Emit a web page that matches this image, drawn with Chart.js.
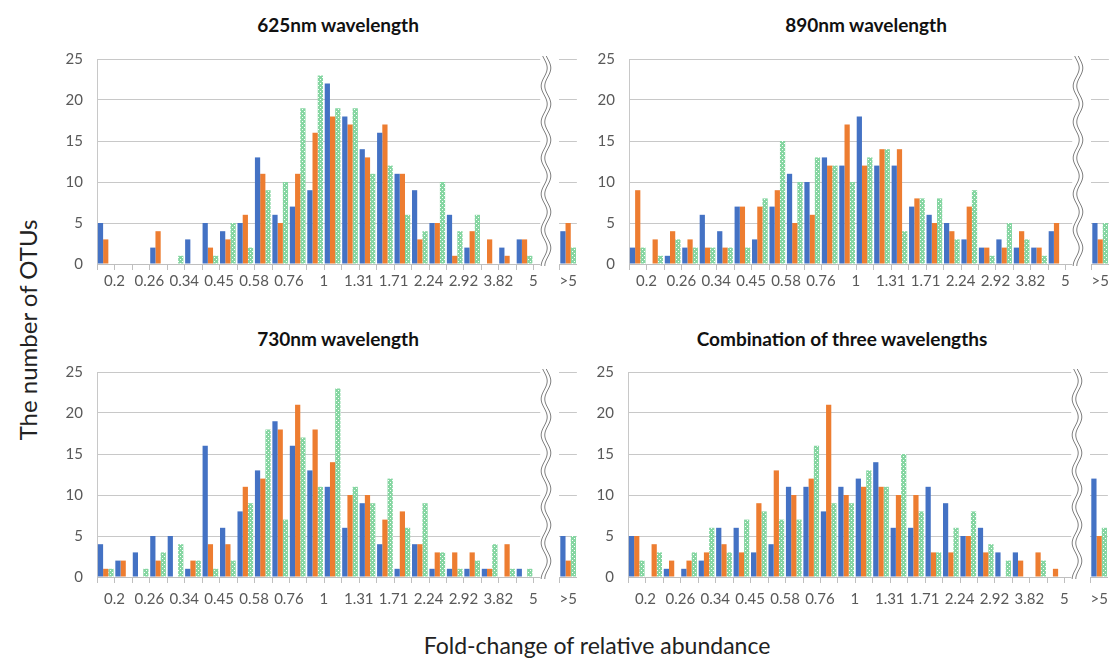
<!DOCTYPE html>
<html>
<head>
<meta charset="utf-8">
<script src="https://cdn.jsdelivr.net/npm/chart.js@4/dist/chart.umd.min.js"></script>
<style>
  html, body { margin: 0; padding: 0; background: #fff; overflow: hidden; }
  body { width: 1112px; height: 659px; position: relative; font-family: Lato, sans-serif; }
  canvas { position: absolute; }
  .ttl { position: absolute; font-weight: bold; font-size: 19px; color: #111; white-space: nowrap;
         transform: translate(-50%, -50%); }
  .ytitle { position: absolute; left: 27px; top: 330px; font-size: 24px; color: #222; white-space: nowrap;
            transform: translate(-50%, -50%) rotate(-90deg); }
  .xtitle { position: absolute; left: 597px; top: 645px; font-size: 23px; color: #222; white-space: nowrap;
            transform: translate(-50%, -50%); }
</style>
</head>
<body>
<div class="ytitle">The number of OTUs</div>
<div class="xtitle">Fold-change of relative abundance</div>

<script>
// ── Data ──────────────────────────────────────────────────────────────────
// 25 bins between the labelled edges, last value of each array is the ">5" bin

const edgeLabels = ['0.2', '0.26', '0.34', '0.45', '0.58', '0.76', '1', '1.31', '1.71', '2.24', '2.92', '3.82', '5'];
const overLabel  = '>5';

const blue625   = [5, 0, 0, 2, 0, 3, 5, 4, 5, 13, 6, 7, 9, 22, 18, 14, 16, 11, 9, 5, 6, 2, 0, 2, 3, 4];
const orange625 = [3, 0, 0, 4, 0, 0, 2, 3, 6, 11, 5, 11, 16, 18, 17, 13, 17, 11, 3, 5, 1, 4, 3, 1, 3, 5];
const green625  = [0, 0, 0, 0, 1, 0, 1, 5, 2, 9, 10, 19, 23, 19, 19, 11, 12, 6, 4, 10, 4, 6, 0, 0, 1, 2];

const blue890   = [2, 0, 1, 2, 6, 4, 7, 3, 7, 11, 10, 13, 12, 18, 12, 12, 7, 6, 5, 3, 2, 3, 2, 2, 4, 5];
const orange890 = [9, 3, 4, 3, 2, 2, 7, 7, 9, 5, 6, 12, 17, 12, 14, 14, 8, 5, 4, 7, 2, 2, 4, 2, 5, 3];
const green890  = [2, 1, 3, 2, 2, 2, 2, 8, 15, 10, 13, 12, 10, 13, 14, 4, 8, 8, 3, 9, 1, 5, 3, 1, 0, 5];

const blue730   = [4, 2, 3, 5, 5, 1, 16, 6, 8, 13, 19, 16, 13, 11, 6, 9, 4, 1, 4, 1, 1, 1, 1, 0, 1, 5];
const orange730 = [1, 2, 0, 2, 0, 2, 4, 4, 11, 12, 18, 21, 18, 14, 10, 10, 7, 8, 4, 3, 3, 3, 1, 4, 0, 2];
const green730  = [1, 0, 1, 3, 4, 2, 1, 2, 9, 18, 7, 17, 11, 23, 11, 9, 12, 6, 9, 3, 1, 2, 4, 1, 1, 5];

const blueAll   = [5, 0, 1, 1, 2, 6, 6, 3, 4, 11, 11, 8, 11, 12, 14, 6, 6, 11, 9, 5, 6, 3, 3, 0, 0, 12];
const orangeAll = [5, 4, 2, 2, 3, 4, 3, 9, 13, 10, 12, 21, 10, 11, 11, 10, 10, 3, 3, 5, 3, 0, 2, 3, 1, 5];
const greenAll  = [2, 3, 0, 3, 6, 3, 7, 8, 7, 7, 16, 9, 9, 13, 11, 15, 8, 3, 6, 8, 4, 2, 0, 2, 0, 6];

// ── Layout ────────────────────────────────────────────────────────────────

const NBINS   = 25;
const GAP     = 1.5;            // width of the axis break, in bins
const X_MAX   = NBINS + GAP + 0.5;
const UNIT    = 17.45;          // px per bin
const Y_W     = 47;
const X_H     = 40;
const PAD_TOP = 10;
const CANVAS_W = 530;

const panels = [
  { title: '625nm wavelength', cx: 338, ty: 24,  left: 97,    top: 59,    h: 204.5, pad: 8,  series: [blue625, orange625, green625] },
  { title: '890nm wavelength', cx: 866, ty: 24,  left: 629.3, top: 59,    h: 204.5, pad: 8,  series: [blue890, orange890, green890] },
  { title: '730nm wavelength', cx: 338, ty: 338, left: 97,    top: 372.3, h: 205,   pad: 13, series: [blue730, orange730, green730] },
  { title: 'Combination of three wavelengths', cx: 842, ty: 338, left: 628.3, top: 372.3, h: 205, pad: 13, series: [blueAll, orangeAll, greenAll] },
];

const binX = i => (i < NBINS ? i : NBINS + GAP);
const tickPos  = edgeLabels.map((_, i) => 2 * i + 0.5).concat([NBINS + GAP]);
const tickText = edgeLabels.concat([overLabel]);
const edgeMarks = Array.from({ length: NBINS + 1 }, (_, i) => i - 0.5).concat([NBINS + GAP - 0.5]);

// dotted light-green fill
function dotPattern() {
  const c = document.createElement('canvas');
  c.width = 4; c.height = 4;
  const g = c.getContext('2d');
  g.fillStyle = '#86d6a2';
  g.fillRect(0, 0, 4, 4);
  g.fillStyle = '#ffffff';
  g.fillRect(0, 0, 1, 1);
  g.fillRect(2, 2, 1, 1);
  return g.createPattern(c, 'repeat');
}
const colors = ['#4472C4', '#ED7D31', dotPattern()];

// tick marks under the axis + the wavy axis break
const axisExtras = {
  id: 'axisExtras',
  afterDraw(chart) {
    const { ctx, chartArea: a, scales: { x } } = chart;
    ctx.save();
    ctx.strokeStyle = '#bfbfbf';
    ctx.lineWidth = 1;
    ctx.beginPath();
    for (const v of edgeMarks) {
      const px = Math.round(x.getPixelForValue(v)) + 0.5;
      ctx.moveTo(px, a.bottom);
      ctx.lineTo(px, a.bottom + 6);
    }
    ctx.stroke();

    // blank out the grid inside the break
    const x0 = x.getPixelForValue(NBINS - 0.1);
    const x1 = Math.round(x.getPixelForValue(NBINS + GAP - 0.5));
    ctx.fillStyle = '#fff';
    ctx.fillRect(x0, a.top - 4, x1 - x0, a.bottom - a.top + 12);

    const cx = x.getPixelForValue(NBINS + 0.23);
    ctx.strokeStyle = '#808080';
    for (const off of [-1.8, 1.8]) {
      ctx.beginPath();
      for (let yy = a.top - 3; yy <= a.bottom + 2; yy++) {
        const xx = cx + off + 3 * Math.sin((yy - a.top) / 36 * 2 * Math.PI);
        if (yy === a.top - 3) ctx.moveTo(xx, yy); else ctx.lineTo(xx, yy);
      }
      ctx.stroke();
    }
    ctx.restore();
  }
};

// ── Charts ────────────────────────────────────────────────────────────────

const font = { family: 'Lato', size: 15 };

for (const p of panels) {
  const t = document.createElement('div');
  t.className = 'ttl';
  t.style.left = p.cx + 'px';
  t.style.top = p.ty + 'px';
  t.textContent = p.title;
  document.body.appendChild(t);

  const cv = document.createElement('canvas');
  cv.width = CANVAS_W;
  cv.height = Math.round(PAD_TOP + p.h + X_H);
  cv.style.left = (p.left - Y_W) + 'px';
  cv.style.top = (p.top - PAD_TOP) + 'px';
  document.body.appendChild(cv);

  new Chart(cv.getContext('2d'), {
    type: 'bar',
    data: {
      datasets: p.series.map((vals, k) => ({
        data: vals.map((v, i) => ({ x: binX(i), y: v })),
        backgroundColor: colors[k],
        borderWidth: 0,
        categoryPercentage: 0.9,
        barPercentage: 1.0,
      })),
    },
    options: {
      responsive: false,
      animation: false,
      layout: { padding: { top: PAD_TOP, right: CANVAS_W - Y_W - (X_MAX + 0.5) * UNIT, left: 0, bottom: 0 } },
      plugins: { legend: { display: false }, tooltip: { enabled: false } },
      scales: {
        x: {
          type: 'linear', min: -0.5, max: X_MAX, offset: false,
          grid: { display: false, drawTicks: false },
          border: { color: '#bfbfbf' },
          afterBuildTicks: s => { s.ticks = tickPos.map(v => ({ value: v })); },
          afterFit: s => { s.height = X_H; s.paddingLeft = 0; s.paddingRight = 0; },
          ticks: { autoSkip: false, maxRotation: 0, padding: p.pad, color: '#595959', font,
                   callback: (v, i) => tickText[i] },
        },
        y: {
          min: 0, max: 25,
          afterFit: s => { s.width = Y_W; s.paddingTop = 0; s.paddingBottom = 0; },
          grid: { color: '#c8c8c8', drawTicks: false },
          border: { color: '#c8c8c8' },
          ticks: { stepSize: 5, padding: 14, color: '#595959', font },
        },
      },
    },
    plugins: [axisExtras],
  });
}
</script>
</body>
</html>
